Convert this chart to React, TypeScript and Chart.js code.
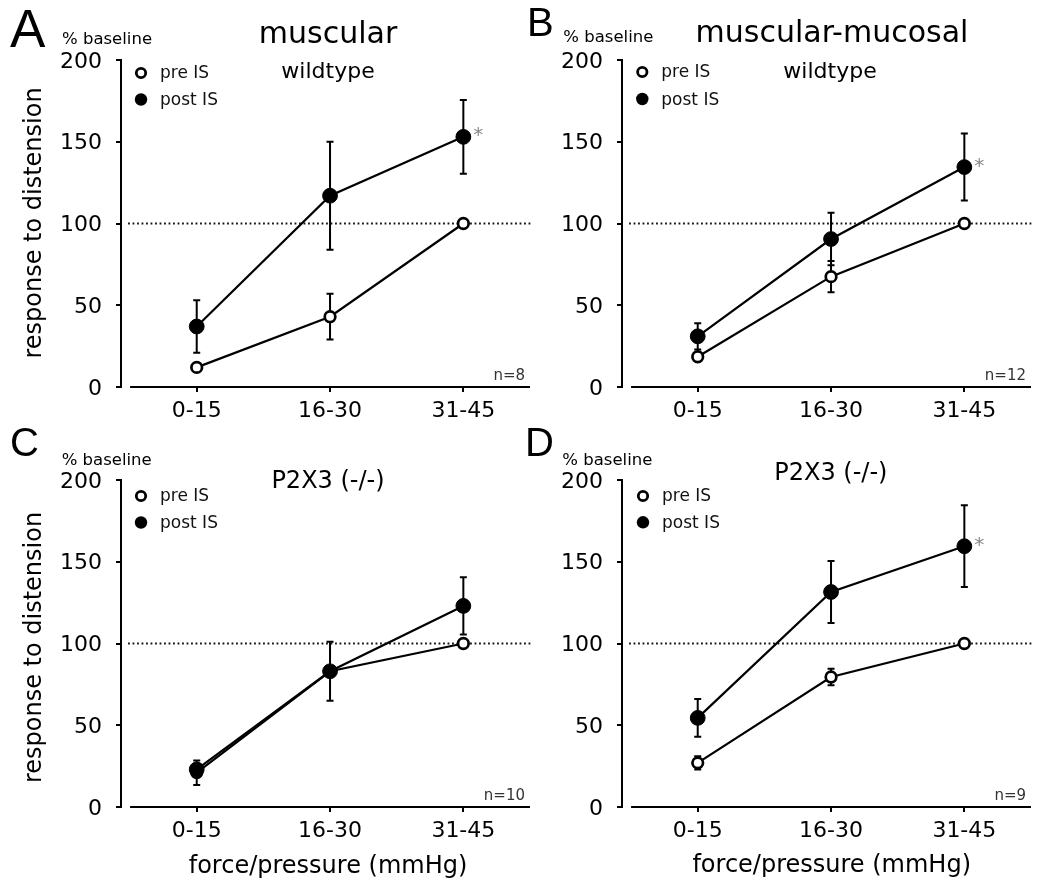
import React, { useEffect, useRef } from 'react';
import { Chart, registerables } from 'chart.js';

Chart.register(...registerables);

// ---------- data ----------
const CATEGORIES = ['0-15', '16-30', '31-45'];
const Y_TICKS = [0, 50, 100, 150, 200];
const SERIES_NAMES = ['pre IS', 'post IS'];
const BASELINE_VALUE = 100;

// Panel A: muscular, wildtype
const A_PRE = [12, 43, 100];
const A_PRE_ERR = [2, 14, 0];
const A_POST = [37, 117, 153];
const A_POST_ERR = [16, 33, 22.5];

// Panel B: muscular-mucosal, wildtype
const B_PRE = [18.5, 67.5, 100];
const B_PRE_ERR = [2, 9.5, 0];
const B_POST = [31, 90.5, 134.5];
const B_POST_ERR = [8, 16, 20.5];

// Panel C: P2X3 (-/-)
const C_PRE = [21, 83, 100];
const C_PRE_ERR = [7.5, 3, 0];
const C_POST = [23, 83, 123];
const C_POST_ERR = [3, 18, 17.5];

// Panel D: P2X3 (-/-)
const D_PRE = [27, 79.5, 100];
const D_PRE_ERR = [4, 5, 0];
const D_POST = [54.5, 131.5, 159.5];
const D_POST_ERR = [11.5, 19, 25];

const FONT = 'DejaVu Sans';
const LETTER_FONT = 'Liberation Sans';
const CW = 549;
const CH = 473;

type Spec = {
  left: number; top: number;
  letter: string; letterSize: number; letterX: number; letterY: number;
  baseX: number; baseY: number;
  title: string; titleSize: number; titleX: number; titleY: number;
  sub?: string; subX?: number; subY?: number;
  legX: number; legY1: number; legY2: number;
  n: string;
  yTitleY?: number;
  xTitleX?: number; xTitleY?: number;
  pre: number[]; preErr: number[]; post: number[]; postErr: number[];
  star: boolean;
};

const SPECS: Spec[] = [
  {
    left: 0, top: 0, letter: 'A', letterSize: 53, letterX: 10, letterY: 46.7,
    baseX: 62, baseY: 43.5,
    title: 'muscular', titleSize: 30, titleX: 328, titleY: 43,
    sub: 'wildtype', subX: 328, subY: 78,
    legX: 141, legY1: 73, legY2: 99.5, n: 'n=8', yTitleY: 223,
    pre: A_PRE, preErr: A_PRE_ERR, post: A_POST, postErr: A_POST_ERR, star: true,
  },
  {
    left: 501, top: 0, letter: 'B', letterSize: 40, letterX: 26, letterY: 36,
    baseX: 62.3, baseY: 41.7,
    title: 'muscular-mucosal', titleSize: 30, titleX: 331, titleY: 42,
    sub: 'wildtype', subX: 329, subY: 78,
    legX: 141.3, legY1: 72, legY2: 99, n: 'n=12',
    pre: B_PRE, preErr: B_PRE_ERR, post: B_POST, postErr: B_POST_ERR, star: true,
  },
  {
    left: 0, top: 420, letter: 'C', letterSize: 40, letterX: 10, letterY: 36,
    baseX: 61.7, baseY: 45,
    title: 'P2X3 (-/-)', titleSize: 24, titleX: 328, titleY: 68,
    legX: 141, legY1: 76, legY2: 102.5, n: 'n=10', yTitleY: 227.5,
    xTitleX: 328, xTitleY: 453,
    pre: C_PRE, preErr: C_PRE_ERR, post: C_POST, postErr: C_POST_ERR, star: false,
  },
  {
    left: 501, top: 420, letter: 'D', letterSize: 40, letterX: 24, letterY: 36,
    baseX: 61.3, baseY: 45,
    title: 'P2X3 (-/-)', titleSize: 24, titleX: 329.8, titleY: 60,
    legX: 142, legY1: 76, legY2: 102.3, n: 'n=9',
    xTitleX: 330.7, xTitleY: 451.7,
    pre: D_PRE, preErr: D_PRE_ERR, post: D_POST, postErr: D_POST_ERR, star: true,
  },
];

function makePlugin(spec: Spec) {
  return {
    id: 'panelDeco' + spec.letter,
    beforeDatasetsDraw(chart: any) {
      const ctx = chart.ctx;
      const xs = chart.scales.x;
      const ys = chart.scales.y;
      const area = chart.chartArea;
      ctx.save();
      // detached x axis line
      ctx.strokeStyle = '#000';
      ctx.lineWidth = 2;
      ctx.beginPath();
      ctx.moveTo(xs.getPixelForValue(-0.5), area.bottom);
      ctx.lineTo(xs.getPixelForValue(2.5), area.bottom);
      ctx.stroke();
      // dotted baseline
      const yb = ys.getPixelForValue(BASELINE_VALUE);
      ctx.setLineDash([1.8, 2.7]);
      ctx.lineWidth = 1.8;
      ctx.strokeStyle = '#111';
      ctx.beginPath();
      ctx.moveTo(xs.getPixelForValue(-0.515), yb);
      ctx.lineTo(xs.getPixelForValue(2.515), yb);
      ctx.stroke();
      ctx.setLineDash([]);
      // error bars
      const errs = [spec.preErr, spec.postErr];
      const vals = [spec.pre, spec.post];
      ctx.strokeStyle = '#000';
      ctx.lineWidth = 2;
      for (let d = 0; d < 2; d++) {
        const meta = chart.getDatasetMeta(d);
        meta.data.forEach((pt: any, i: number) => {
          const e = errs[d][i];
          if (!e) return;
          const v = vals[d][i];
          const yt = ys.getPixelForValue(v + e);
          const yb2 = ys.getPixelForValue(v - e);
          const x = pt.x;
          ctx.beginPath();
          ctx.moveTo(x, yt);
          ctx.lineTo(x, yb2);
          ctx.moveTo(x - 3.5, yt);
          ctx.lineTo(x + 3.5, yt);
          ctx.moveTo(x - 3.5, yb2);
          ctx.lineTo(x + 3.5, yb2);
          ctx.stroke();
        });
      }
      ctx.restore();
    },
    afterDraw(chart: any) {
      const ctx = chart.ctx;
      ctx.save();
      ctx.fillStyle = '#000';
      ctx.textBaseline = 'alphabetic';
      // panel letter
      ctx.font = `${spec.letterSize}px "${LETTER_FONT}"`;
      ctx.textAlign = 'left';
      ctx.fillText(spec.letter, spec.letterX, spec.letterY);
      // % baseline
      ctx.font = `16.5px "${FONT}"`;
      ctx.fillText('% baseline', spec.baseX, spec.baseY);
      // title
      ctx.textAlign = 'center';
      ctx.font = `${spec.titleSize}px "${FONT}"`;
      ctx.fillText(spec.title, spec.titleX, spec.titleY);
      if (spec.sub) {
        ctx.font = `22px "${FONT}"`;
        ctx.fillText(spec.sub, spec.subX, spec.subY);
      }
      // legend
      ctx.textAlign = 'left';
      ctx.font = `17px "${FONT}"`;
      ctx.beginPath();
      ctx.arc(spec.legX, spec.legY1, 4.7, 0, Math.PI * 2);
      ctx.fillStyle = '#fff';
      ctx.fill();
      ctx.lineWidth = 2.8;
      ctx.strokeStyle = '#000';
      ctx.stroke();
      ctx.beginPath();
      ctx.arc(spec.legX, spec.legY2, 6.2, 0, Math.PI * 2);
      ctx.fillStyle = '#000';
      ctx.fill();
      ctx.fillStyle = '#111';
      ctx.fillText(SERIES_NAMES[0], spec.legX + 19, spec.legY1 + 5);
      ctx.fillText(SERIES_NAMES[1], spec.legX + 19, spec.legY2 + 5.6);
      // n=
      ctx.textAlign = 'right';
      ctx.font = `15px "${FONT}"`;
      ctx.fillStyle = '#333';
      ctx.fillText(spec.n, 525, 379.5);
      // asterisk
      if (spec.star) {
        const meta = chart.getDatasetMeta(1);
        const pt = meta.data[2];
        ctx.textAlign = 'center';
        ctx.font = `20px "${FONT}"`;
        ctx.fillStyle = '#8a8a8a';
        ctx.fillText('*', pt.x + 15, pt.y + 4.5);
      }
      ctx.fillStyle = '#000';
      // axis titles
      if (spec.yTitleY !== undefined) {
        ctx.save();
        ctx.translate(35, spec.yTitleY);
        ctx.rotate(-Math.PI / 2);
        ctx.textAlign = 'center';
        ctx.textBaseline = 'middle';
        ctx.font = `24px "${FONT}"`;
        ctx.fillText('response to distension', 0, 0);
        ctx.restore();
      }
      if (spec.xTitleX !== undefined) {
        ctx.textAlign = 'center';
        ctx.textBaseline = 'alphabetic';
        ctx.font = `24px "${FONT}"`;
        ctx.fillText('force/pressure (mmHg)', spec.xTitleX, spec.xTitleY);
      }
      ctx.restore();
    },
  };
}

function buildConfig(spec: Spec): any {
  const tickFont = { family: FONT, size: 22 };
  return {
    type: 'line',
    data: {
      datasets: [
        {
          label: SERIES_NAMES[0],
          data: spec.pre.map((v, i) => ({ x: i, y: v })),
          order: 2,
          borderColor: '#000',
          borderWidth: 2.2,
          pointRadius: 5.3,
          pointBorderWidth: 2.7,
          pointBackgroundColor: '#fff',
          pointBorderColor: '#000',
          fill: false,
          tension: 0,
        },
        {
          label: SERIES_NAMES[1],
          data: spec.post.map((v, i) => ({ x: i, y: v })),
          order: 1,
          borderColor: '#000',
          borderWidth: 2.2,
          pointRadius: 7.4,
          pointBorderWidth: 1,
          pointBackgroundColor: '#000',
          pointBorderColor: '#000',
          fill: false,
          tension: 0,
        },
      ],
    },
    options: {
      responsive: false,
      animation: false,
      devicePixelRatio: 1,
      layout: { padding: { left: 0, top: 60, right: 19, bottom: 0 } },
      plugins: {
        legend: { display: false },
        tooltip: { enabled: false },
        title: { display: false },
      },
      scales: {
        x: {
          type: 'linear',
          min: -0.568,
          max: 2.5,
          bounds: 'data',
          afterBuildTicks: (s: any) => {
            s.ticks = CATEGORIES.map((_, i) => ({ value: i }));
          },
          afterFit: (s: any) => {
            s.height = CH - 387;
          },
          ticks: {
            callback: (v: number) => CATEGORIES[v] ?? '',
            font: tickFont,
            color: '#000',
            padding: 6,
            maxRotation: 0,
            autoSkip: false,
          },
          grid: {
            display: true,
            drawOnChartArea: false,
            drawTicks: true,
            tickLength: 5,
            tickWidth: 2,
            tickColor: '#000',
            lineWidth: 2,
            color: '#000',
            offset: false,
          },
          border: { display: false },
        },
        y: {
          min: 0,
          max: 200,
          afterBuildTicks: (s: any) => {
            s.ticks = Y_TICKS.map((v) => ({ value: v }));
          },
          afterFit: (s: any) => {
            s.width = 121;
          },
          ticks: { font: tickFont, color: '#000', padding: 14, labelOffset: 2 },
          grid: {
            display: true,
            drawOnChartArea: false,
            drawTicks: true,
            tickLength: 5,
            tickWidth: 2,
            tickColor: '#000',
            lineWidth: 2,
            color: '#000',
          },
          border: { display: true, color: '#000', width: 2 },
        },
      },
    },
    plugins: [makePlugin(spec)],
  };
}

function Panel({ spec }: { spec: Spec }) {
  const ref = useRef<HTMLCanvasElement>(null);
  useEffect(() => {
    const chart = new Chart(ref.current as HTMLCanvasElement, buildConfig(spec));
    return () => chart.destroy();
  }, [spec]);
  return (
    <canvas
      ref={ref}
      width={CW}
      height={CH}
      style={{ position: 'absolute', left: spec.left, top: spec.top, width: CW, height: CH }}
    />
  );
}

export default function App() {
  return (
    <div
      style={{
        position: 'absolute',
        left: 0,
        top: 0,
        width: 1050,
        height: 893,
        background: '#fff',
        overflow: 'hidden',
      }}
    >
      {SPECS.map((s) => (
        <Panel key={s.letter} spec={s} />
      ))}
    </div>
  );
}
